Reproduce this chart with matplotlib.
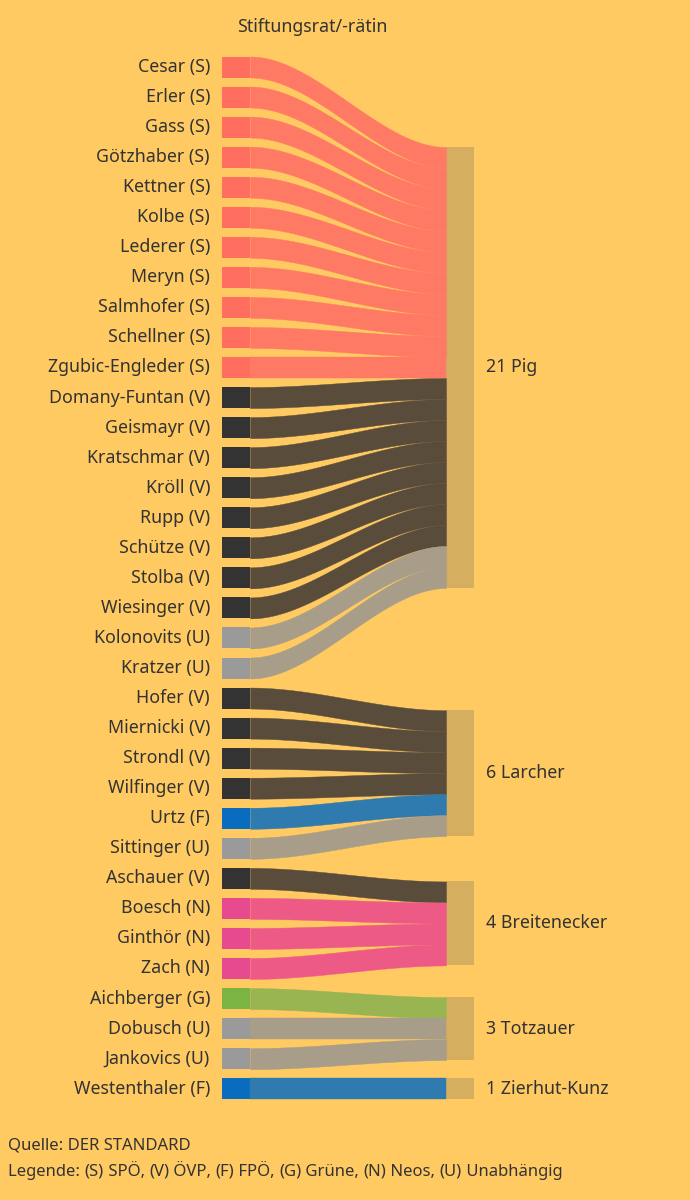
import numpy as np
import matplotlib.pyplot as plt

plt.rcParams['font.family'] = ['Noto Sans', 'DejaVu Sans']

NAMES = ["Cesar", "Erler", "Gass", "Götzhaber", "Kettner", "Kolbe", "Lederer", "Meryn",
         "Salmhofer", "Schellner", "Zgubic-Engleder", "Domany-Funtan", "Geismayr", "Kratschmar",
         "Kröll", "Rupp", "Schütze", "Stolba", "Wiesinger", "Kolonovits", "Kratzer",
         "Hofer", "Miernicki", "Strondl", "Wilfinger", "Urtz", "Sittinger",
         "Aschauer", "Boesch", "Ginthör", "Zach",
         "Aichberger", "Dobusch", "Jankovics", "Westenthaler"]
PARTIES = list("SSSSSSSSSSS") + list("VVVVVVVV") + ["U", "U"] + list("VVVV") + ["F", "U"] \
    + ["V", "N", "N", "N"] + ["G", "U", "U"] + ["F"]
TARGETS = ["21 Pig"] * 21 + ["6 Larcher"] * 6 + ["4 Breitenecker"] * 4 + ["3 Totzauer"] * 3 + ["1 Zierhut-Kunz"]

NODE_COL = {"S": "#FF6E5E", "V": "#333333", "U": "#9A9A9A", "F": "#0A6CBE", "N": "#E84A8F", "G": "#7BB443"}
LINK_COL = {"S": "#FF7A64", "V": "#5A4C3A", "U": "#A89D88", "F": "#2F7AAE", "N": "#EE5A86", "G": "#98B552"}
BG = "#FFCA62"
TXT = "#333333"
FS = 12.8

fig = plt.figure(figsize=(6.9, 12), dpi=100, facecolor=BG)
ax = fig.add_axes([0, 0, 1, 1])
ax.set_xlim(0, 690)
ax.set_ylim(1200, 0)
ax.axis("off")

y0, step, h = 67, 30.05, 21
xl0, xl1, xr0, xr1 = 222, 250, 446, 474

rows = {}
for i, (n, p) in enumerate(zip(NAMES, PARTIES)):
    yc = y0 + i * step
    rows[i] = yc
    ax.add_patch(plt.Rectangle((xl0, yc - h / 2), xl1 - xl0, h, color=NODE_COL[p], lw=0))
    ax.text(210, yc, f"{n} ({p})", ha="right", va="center", fontsize=FS, fontweight="bold", color=TXT)

t = np.linspace(0, 1, 100)
s = 3 * t**2 - 2 * t**3
xs = xl1 + (xr0 - xl1) * t
for tgt in dict.fromkeys(TARGETS):
    idx = [i for i, x in enumerate(TARGETS) if x == tgt]
    center = np.mean([rows[i] for i in idx])
    top = center - len(idx) * h / 2
    ax.add_patch(plt.Rectangle((xr0, top), xr1 - xr0, len(idx) * h, color="#D6AE60", lw=0))
    ax.text(486, center, tgt, ha="left", va="center", fontsize=FS, fontweight="bold", color=TXT)
    for k, i in enumerate(idx):
        ys = rows[i] - h / 2
        ye = top + k * h
        yy = ys + (ye - ys) * s
        ax.fill_between(xs, yy, yy + h, color=LINK_COL[PARTIES[i]], lw=0.3, ec=LINK_COL[PARTIES[i]])

ax.text(312, 27, "Stiftungsrat/-rätin", ha="center", va="center", fontsize=FS, fontweight="bold", color=TXT)
ax.text(8, 1146, "Quelle: DER STANDARD", ha="left", va="center", fontsize=12, color=TXT)

pieces = [("Legende: ", "normal")]
for code, name in [("S", "SPÖ"), ("V", "ÖVP"), ("F", "FPÖ"), ("G", "Grüne"), ("N", "Neos"), ("U", "Unabhängig")]:
    pieces += [(f"({code})", "bold"), (f" {name}" + ("," if code != "U" else "") + " ", "normal")]
fig.canvas.draw()
r = fig.canvas.get_renderer()
x = 8
for txt, w in pieces:
    tt = ax.text(x, 1172, txt, ha="left", va="center", fontsize=12, fontweight=w, color=TXT)
    x += tt.get_window_extent(r).width

fig.savefig("out.png", dpi=100, facecolor=BG)
